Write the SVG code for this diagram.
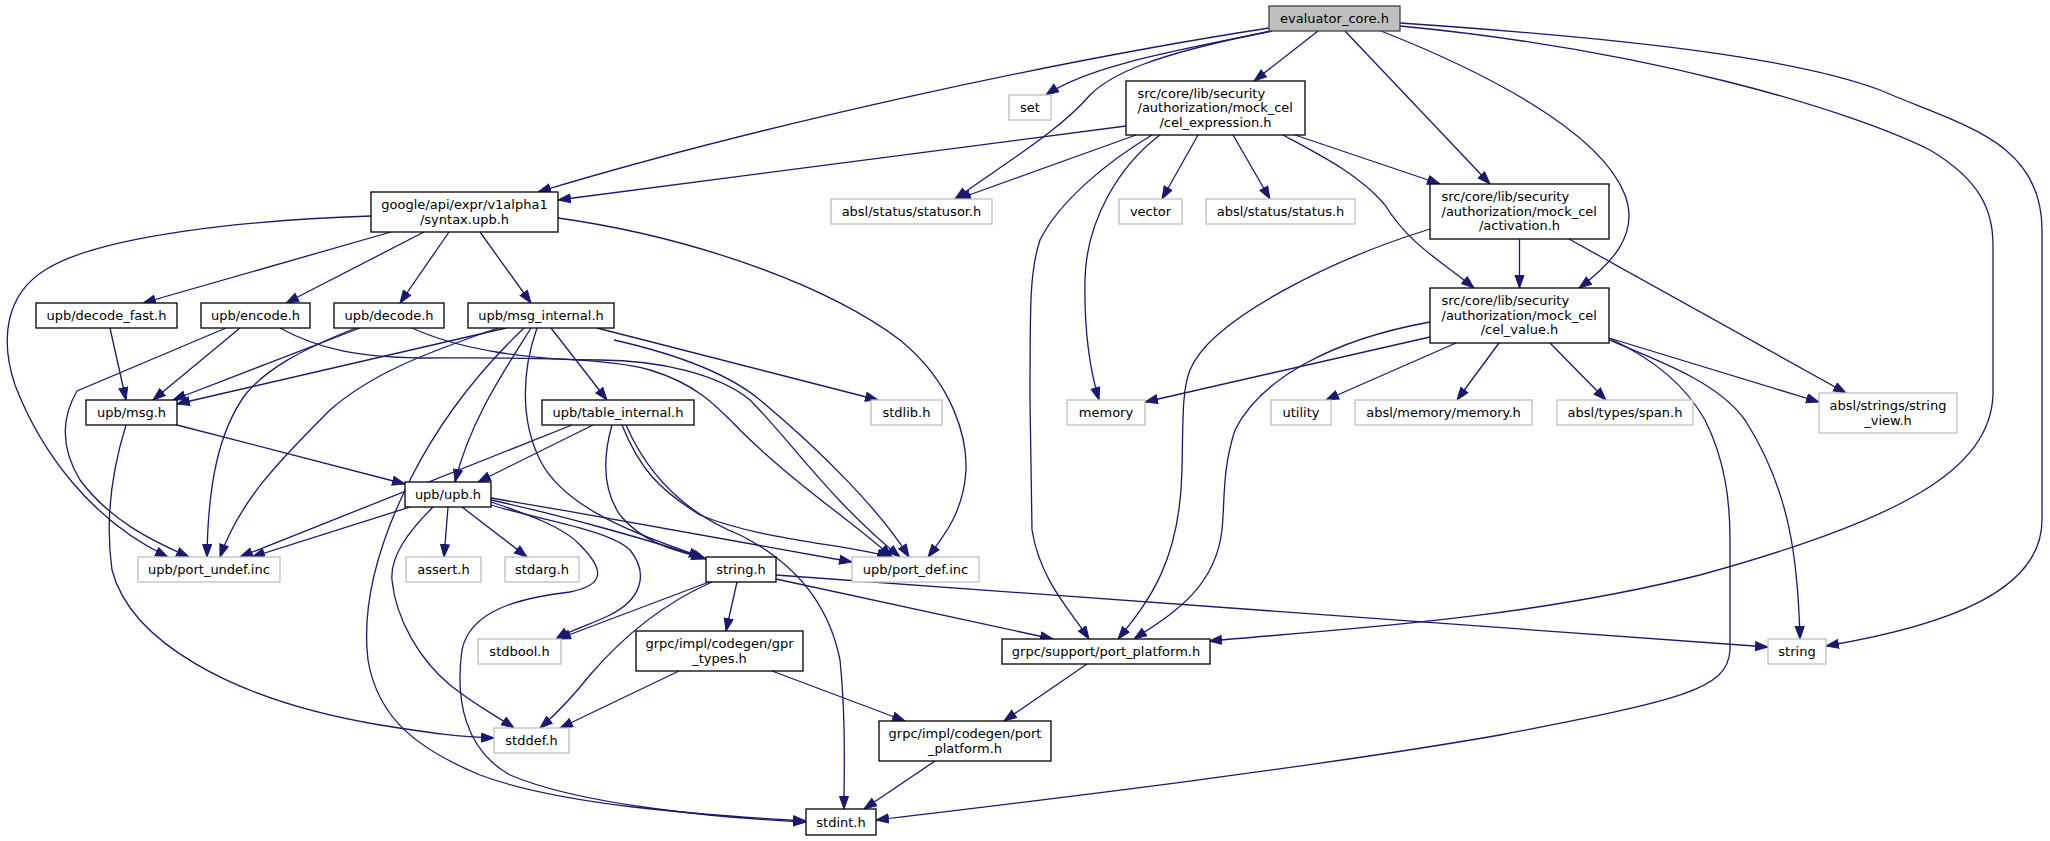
<svg xmlns="http://www.w3.org/2000/svg" width="2050" height="841" viewBox="0 0 2050 841">
<style>
.n rect{fill:#fff;stroke:#000;stroke-width:1.3}
.g rect{fill:#fff;stroke:#bfbfbf;stroke-width:1.3}
.r rect{fill:#bfbfbf;stroke:#404040;stroke-width:1.3}
text{font-family:"DejaVu Sans","Liberation Sans",sans-serif;font-size:13px;fill:#000;text-anchor:middle}
text.l{text-anchor:start}
#edges path{fill:none;stroke:#191970;stroke-width:1.3;marker-end:url(#a)}
</style>
<defs>
<marker id="a" markerWidth="14" markerHeight="11" refX="13" refY="5" orient="auto" markerUnits="userSpaceOnUse">
<path d="M0.5,0.5 L13,5 L0.5,9.5 z" fill="#191970" stroke="#191970" stroke-width="1"/>
</marker>
</defs>
<rect width="2050" height="841" fill="#fff"/>
<g id="edges">
<path d="M1269,28 C1050,62 760,125 538,192"/>
<path d="M1272,31 C1180,50 1090,65 1046,95"/>
<path d="M1272,31 C1150,55 1110,75 1090,95 C1060,130 1010,160 955,199"/>
<path d="M1136,135 L958,199"/>
<path d="M1318,31 L1254,81"/>
<path d="M1345,31 L1490,184"/>
<path d="M1381,31 C1480,70 1600,130 1625,195 C1640,235 1610,265 1579,288"/>
<path d="M1400,26 C1650,50 1850,110 1930,150 C1980,180 1993,210 1993,245 L1993,395 C1990,470 1900,520 1700,575 C1520,620 1330,630 1209,641"/>
<path d="M1400,23 C1650,40 1800,60 1880,90 C1960,125 2042,140 2042,230 L2042,520 C2042,590 1950,625 1826,646"/>
<path d="M1126,126 L558,200"/>
<path d="M1152,135 C1110,160 1060,200 1040,240 C1030,270 1030,300 1030,400 L1032,530 C1040,580 1070,610 1089,639"/>
<path d="M1160,135 C1120,165 1086,220 1085,280 C1084,330 1090,370 1099,400"/>
<path d="M1198,135 L1162,199"/>
<path d="M1233,135 L1270,199"/>
<path d="M1295,135 L1440,184"/>
<path d="M1283,135 C1320,155 1360,175 1385,205 C1410,245 1440,260 1474,288"/>
<path d="M1519.5,239 L1519.5,288"/>
<path d="M1569,239 L1846,393"/>
<path d="M1430,229 C1330,260 1210,320 1190,370 C1182,390 1183,420 1182,470 C1180,560 1150,600 1118,639"/>
<path d="M1430,322 C1330,340 1260,380 1235,430 C1222,470 1225,500 1222,530 C1215,590 1170,615 1134,639"/>
<path d="M1430,337 L1145,402"/>
<path d="M1456,343 L1326,400"/>
<path d="M1499,343 L1457,400"/>
<path d="M1550,343 L1606,400"/>
<path d="M1609,338 L1819,402"/>
<path d="M1609,340 C1670,365 1720,385 1745,420 C1790,490 1798,560 1800,639"/>
<path d="M1609,338 C1655,360 1685,385 1705,420 C1725,460 1730,500 1730,540 L1730,650 C1728,690 1680,700 1500,735 C1300,770 1000,805 876,820"/>
<path d="M371,216 C250,220 100,235 45,270 C5,295 0,340 15,385 C40,450 90,520 168,557"/>
<path d="M391,232 L143,303"/>
<path d="M424,232 L286,303"/>
<path d="M449,232 L400,303"/>
<path d="M480,232 L531,303"/>
<path d="M558,218 C680,235 820,280 900,340 C955,385 967,440 966,470 C964,510 945,535 928,557"/>
<path d="M110,328 L126,400"/>
<path d="M240,328 L153,400"/>
<path d="M226,328 L77,391 C60,420 62,450 80,480 C110,520 150,540 189,557"/>
<path d="M280,328 C320,350 360,357 420,358 C500,358 600,356 650,370 C700,385 720,410 740,430 C790,480 850,520 892,557"/>
<path d="M360,328 L173,400"/>
<path d="M356,328 C300,350 265,370 245,395 C220,430 208,480 207,557"/>
<path d="M412,328 C460,350 530,360 600,360 C660,360 720,375 750,400 C790,440 830,500 900,557"/>
<path d="M506,328 L177,404"/>
<path d="M498,328 C420,355 370,375 330,410 C280,460 240,500 220,557"/>
<path d="M524,328 C480,370 440,420 410,480 C375,550 362,610 368,660 C378,720 420,750 480,775 C560,805 700,815 806,821"/>
<path d="M531,328 C505,370 470,420 455,482"/>
<path d="M537,328 C522,370 520,420 540,460 C565,510 640,535 702,557"/>
<path d="M551,328 L607,400"/>
<path d="M614,340 C680,355 730,375 760,400 C820,450 880,510 909,557"/>
<path d="M597,328 L878,400"/>
<path d="M177,425 L405,484"/>
<path d="M126,425 C112,470 105,520 112,570 C130,640 230,700 380,725 C430,733 460,737 494,738"/>
<path d="M572,425 L240,557"/>
<path d="M593,425 L478,482"/>
<path d="M612,425 C602,460 603,490 620,515 C640,540 670,550 704,558"/>
<path d="M622,425 C640,470 660,490 700,515 C760,540 850,545 890,557"/>
<path d="M626,425 C650,480 690,515 740,535 C800,565 830,610 840,660 C846,720 844,770 844,809"/>
<path d="M410,507 L252,557"/>
<path d="M433,507 C410,530 390,555 392,580 C396,620 420,660 450,685 C475,705 495,715 514,728"/>
<path d="M448,507 L444,557"/>
<path d="M462,507 L527,557"/>
<path d="M491,505 C540,520 610,530 630,550 C650,575 640,600 610,615 C590,625 570,630 556,639"/>
<path d="M491,502 C530,515 565,528 580,545 C605,570 605,585 570,592 C520,598 470,610 462,650 C455,700 465,750 510,775 C580,805 720,818 806,822"/>
<path d="M491,500 C560,515 650,540 706,559"/>
<path d="M491,498 C620,520 760,545 852,562"/>
<path d="M709,582 L558,639"/>
<path d="M712,582 C660,605 620,640 590,675 C570,700 555,715 540,728"/>
<path d="M737,582 L726,631"/>
<path d="M776,579 L1053,639"/>
<path d="M776,575 L1768,647"/>
<path d="M679,671 L560,728"/>
<path d="M772,671 L905,721"/>
<path d="M1087,664 L1004,721"/>
<path d="M935,761 L864,809"/>
</g>
<g id="n1" class="r"><rect x="1269" y="6" width="131" height="25"/><text x="1334.5" y="23">evaluator_core.h</text></g>
<g id="n2" class="g"><rect x="1009" y="95" width="42" height="25"/><text x="1030" y="112">set</text></g>
<g id="n3" class="n"><rect x="1126" y="81" width="179" height="54"/><text class="l" x="1137.5" y="97.5">src/core/lib/security</text><text class="l" x="1137.5" y="112">/authorization/mock_cel</text><text x="1215.5" y="126.5">/cel_expression.h</text></g>
<g id="n4" class="n"><rect x="371" y="192" width="187" height="40"/><text x="464.5" y="209">google/api/expr/v1alpha1</text><text x="464.5" y="223.5">/syntax.upb.h</text></g>
<g id="n5" class="g"><rect x="831" y="199" width="161" height="25"/><text x="911.5" y="216">absl/status/statusor.h</text></g>
<g id="n6" class="g"><rect x="1119" y="199" width="63" height="25"/><text x="1150.5" y="216">vector</text></g>
<g id="n7" class="g"><rect x="1206" y="199" width="149" height="25"/><text x="1280.5" y="216">absl/status/status.h</text></g>
<g id="n8" class="n"><rect x="1430" y="184" width="179" height="55"/><text class="l" x="1441.5" y="201">src/core/lib/security</text><text class="l" x="1441.5" y="215.5">/authorization/mock_cel</text><text x="1519.5" y="230">/activation.h</text></g>
<g id="n9" class="n"><rect x="1430" y="288" width="179" height="55"/><text class="l" x="1441.5" y="305">src/core/lib/security</text><text class="l" x="1441.5" y="319.5">/authorization/mock_cel</text><text x="1519.5" y="334">/cel_value.h</text></g>
<g id="n10" class="n"><rect x="36" y="303" width="141" height="25"/><text x="106.5" y="320">upb/decode_fast.h</text></g>
<g id="n11" class="n"><rect x="201" y="303" width="109" height="25"/><text x="255.5" y="320">upb/encode.h</text></g>
<g id="n12" class="n"><rect x="334" y="303" width="110" height="25"/><text x="389" y="320">upb/decode.h</text></g>
<g id="n13" class="n"><rect x="468" y="303" width="146" height="25"/><text x="541" y="320">upb/msg_internal.h</text></g>
<g id="n14" class="n"><rect x="86" y="400" width="91" height="25"/><text x="131.5" y="417">upb/msg.h</text></g>
<g id="n15" class="n"><rect x="542" y="400" width="152" height="25"/><text x="618" y="417">upb/table_internal.h</text></g>
<g id="n16" class="g"><rect x="871" y="400" width="71" height="25"/><text x="906.5" y="417">stdlib.h</text></g>
<g id="n17" class="g"><rect x="1067" y="400" width="78" height="25"/><text x="1106" y="417">memory</text></g>
<g id="n18" class="g"><rect x="1271" y="400" width="60" height="25"/><text x="1301" y="417">utility</text></g>
<g id="n19" class="g"><rect x="1355" y="400" width="177" height="25"/><text x="1443.5" y="417">absl/memory/memory.h</text></g>
<g id="n20" class="g"><rect x="1557" y="400" width="136" height="25"/><text x="1625" y="417">absl/types/span.h</text></g>
<g id="n21" class="g"><rect x="1819" y="393" width="138" height="40"/><text x="1888" y="410">absl/strings/string</text><text x="1888" y="424.5">_view.h</text></g>
<g id="n22" class="n"><rect x="405" y="482" width="86" height="25"/><text x="448" y="499">upb/upb.h</text></g>
<g id="n23" class="g"><rect x="138" y="557" width="142" height="25"/><text x="209" y="574">upb/port_undef.inc</text></g>
<g id="n24" class="g"><rect x="406" y="557" width="75" height="25"/><text x="443.5" y="574">assert.h</text></g>
<g id="n25" class="g"><rect x="505" y="557" width="74" height="25"/><text x="542" y="574">stdarg.h</text></g>
<g id="n26" class="n"><rect x="706" y="557" width="70" height="25"/><text x="741" y="574">string.h</text></g>
<g id="n27" class="g"><rect x="852" y="557" width="127" height="25"/><text x="915.5" y="574">upb/port_def.inc</text></g>
<g id="n28" class="g"><rect x="478" y="639" width="83" height="25"/><text x="519.5" y="656">stdbool.h</text></g>
<g id="n29" class="n"><rect x="636" y="631" width="167" height="40"/><text x="719.5" y="648">grpc/impl/codegen/gpr</text><text x="719.5" y="662.5">_types.h</text></g>
<g id="n30" class="n"><rect x="1002" y="639" width="208" height="25"/><text x="1106" y="656">grpc/support/port_platform.h</text></g>
<g id="n31" class="g"><rect x="1768" y="639" width="58" height="25"/><text x="1797" y="656">string</text></g>
<g id="n32" class="g"><rect x="494" y="728" width="75" height="25"/><text x="531.5" y="745">stddef.h</text></g>
<g id="n33" class="n"><rect x="879" y="721" width="172" height="40"/><text x="965" y="738">grpc/impl/codegen/port</text><text x="965" y="752.5">_platform.h</text></g>
<g id="n34" class="n"><rect x="806" y="809" width="70" height="26"/><text x="841" y="826.5">stdint.h</text></g>
</svg>
